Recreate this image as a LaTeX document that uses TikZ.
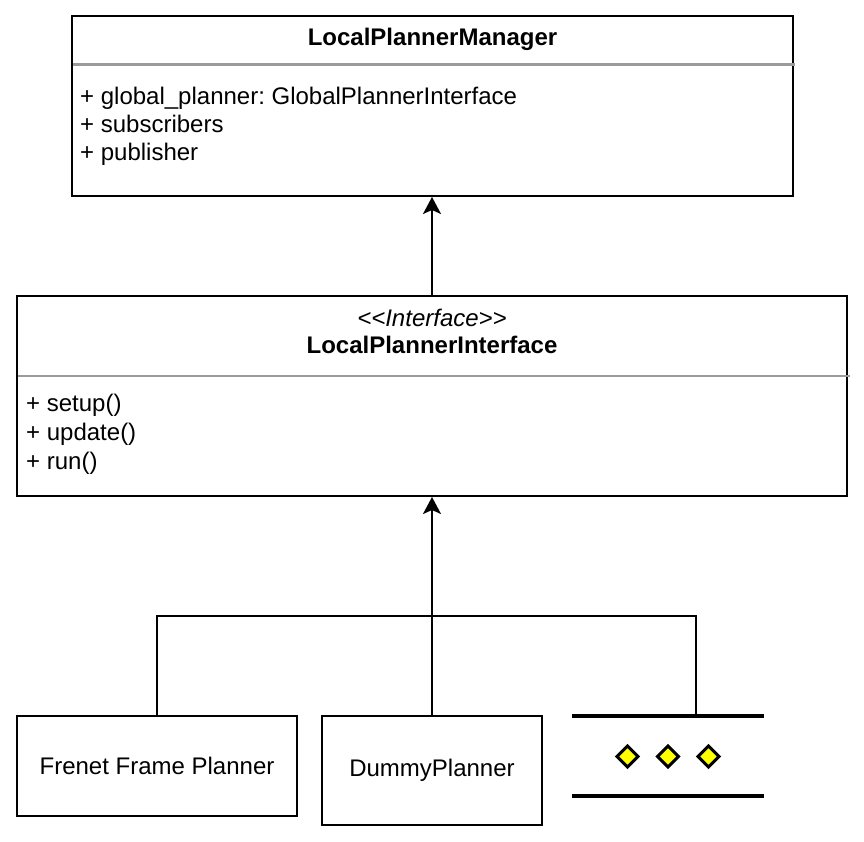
\documentclass[tikz,border=0pt]{standalone}
\usepackage{fontspec}
\setmainfont{Liberation Sans}
\usetikzlibrary{arrows.meta}
\frenchspacing
\definecolor{sepgray}{RGB}{155,155,155}
\definecolor{diayellow}{RGB}{255,255,0}
\tikzset{
  umlbox/.style={draw=black, line width=2pt, fill=white, inner sep=0pt, rectangle},
  sepline/.style={draw=sepgray, line width=2.5pt},
  txt/.style={inner sep=0pt, font=\fontsize{24}{28}\selectfont},
  rowtxt/.style={txt, anchor=base west},
  titletxt/.style={txt, anchor=base, font=\fontsize{24}{28}\selectfont\bfseries},
  stereotxt/.style={txt, anchor=base, font=\fontsize{24}{28}\selectfont\itshape},
  conn/.style={draw=black, line width=2pt},
  arr/.style={conn, -{Stealth[length=17pt, width=18pt, inset=4pt]}},
  thickbar/.style={draw=black, line width=4pt},
  dia/.style={draw=black, fill=diayellow, line width=3pt, line join=miter}
}
\begin{document}
\begin{tikzpicture}[x=1pt,y=-1pt]
\useasboundingbox (0,0) rectangle (864,842);
% LocalPlannerManager
\node[umlbox, minimum width=721pt, minimum height=180pt] (mgr) at (432.5,106) {};
\node[titletxt] (mgrtitle) at (432.5,46) {LocalPlannerManager};
\draw[sepline] (73,64.5) -- (795,64.5);
\node[rowtxt] (mgr1) at (80,105) {+ global\_planner: GlobalPlannerInterface};
\node[rowtxt] (mgr2) at (80,133) {+ subscribers};
\node[rowtxt] (mgr3) at (80,161) {+ publisher};
% LocalPlannerInterface
\node[umlbox, minimum width=830pt, minimum height=200pt] (ifc) at (432,396) {};
\node[stereotxt] (ifcst) at (432,326) {<{}<Interface>{}>};
\node[titletxt] (ifctitle) at (432,353) {LocalPlannerInterface};
\draw[sepline] (18,376) -- (850,376);
\node[rowtxt] (ifc1) at (26,411) {+ setup()};
\node[rowtxt] (ifc2) at (26,440) {+ update()};
\node[rowtxt] (ifc3) at (26,469) {+ run()};
% implementations
\node[umlbox, minimum width=280pt, minimum height=100pt, txt] (frenet) at (157,766) {Frenet Frame Planner};
\node[umlbox, minimum width=220pt, minimum height=109pt, txt] (dummy) at (432,770.5) {DummyPlanner};
\node[inner sep=0pt, minimum width=192pt, minimum height=80pt] (ell) at (668,756) {};
\draw[thickbar] (ell.north west) -- (ell.north east);
\draw[thickbar] (ell.south west) -- (ell.south east);
\foreach \i/\xx in {1/627.5,2/668,3/708.5}{
  \draw[dia] (\xx-10.5,756.5) -- (\xx,746) -- (\xx+10.5,756.5) -- (\xx,767) -- cycle;
}
% connectors
\coordinate (busL) at (157,616);
\coordinate (busR) at (696,616);
\coordinate (ellin) at (696,714);
\draw[arr] (ifc.north) -- (ifc.north |- mgr.south);
\draw[conn] (frenet.north) -- (busL) -- (busR) -- (ellin);
\draw[arr] (dummy.north) -- (ifc.south);
\end{tikzpicture}
\end{document}
